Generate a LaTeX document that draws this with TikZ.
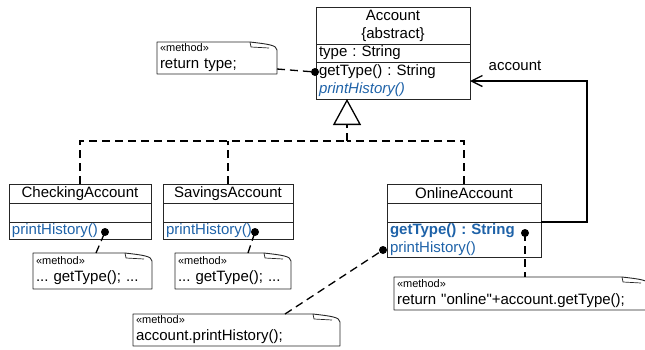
\documentclass[tikz,border=0pt]{standalone}
\usepackage{fontspec}
\setmainfont{Liberation Sans}[Ligatures=TeXOff]
\usetikzlibrary{arrows.meta, positioning}
\definecolor{opblue}{RGB}{30,98,168}
\tikzset{
  boxline/.style = {
    draw=black!85, line width=0.9pt, outer sep=0pt
  },
  head/.style = {
    boxline, inner xsep=3pt, inner ysep=0pt, align=center,
    font=\fontsize{15}{18}\selectfont
  },
  compart/.style = {
    boxline, inner xsep=3pt, inner ysep=0pt, align=left,
    font=\fontsize{15}{18}\selectfont
  },
  note/.style = {
    inner xsep=3pt, inner ysep=1pt, outer sep=0pt, align=left, anchor=north west,
    font=\fontsize{15}{17}\selectfont
  },
  noteedge/.style = {
    draw=black!85, line width=0.9pt, line join=round
  },
  dot/.style = {
    circle, fill=black, inner sep=0pt, minimum size=8pt
  },
  anchorline/.style = {
    line width=1.3pt, dash pattern=on 8pt off 5pt
  },
  realize/.style = {
    line width=1.3pt, dash pattern=on 8pt off 5pt
  },
  assoc/.style = {
    line width=1.3pt, -{Straight Barb[length=11pt, width=11pt]}
  }
}
\newcommand{\stereo}{{\fontsize{11}{12}\selectfont «method»}}

\begin{document}
\frenchspacing
\begin{tikzpicture}[x=1pt, y=-1pt]
  \useasboundingbox (0,0) rectangle (645,349);

  % Abstract class
  \node[head, anchor=north west, text width=148pt, minimum height=37pt] (acc) at (316,7) {Account\\\{abstract\}};
  \node[compart, below=0pt of acc, text width=148pt, minimum height=18pt] (accattr) {type : String};
  \node[compart, below=0pt of accattr, text width=148pt, minimum height=37pt] (accops)
    {getType() : String\\\textcolor{opblue}{\itshape printHistory()}};

  % Subclasses
  \node[head, anchor=north west, text width=136pt, minimum height=19pt] (chk) at (9,184) {CheckingAccount};
  \node[compart, below=0pt of chk, text width=136pt, minimum height=19pt] (chkattr) {};
  \node[compart, below=0pt of chkattr, text width=136pt, minimum height=17pt] (chkops)
    {\textcolor{opblue}{printHistory()}};

  \node[head, anchor=north west, text width=124pt, minimum height=19pt] (sav) at (163,184) {SavingsAccount};
  \node[compart, below=0pt of sav, text width=124pt, minimum height=19pt] (savattr) {};
  \node[compart, below=0pt of savattr, text width=124pt, minimum height=17pt] (savops)
    {\textcolor{opblue}{printHistory()}};

  \node[head, anchor=north west, text width=148pt, minimum height=19pt] (onl) at (387,184) {OnlineAccount};
  \node[compart, below=0pt of onl, text width=148pt, minimum height=19pt] (onlattr) {};
  \node[compart, below=0pt of onlattr, text width=148pt, minimum height=35pt] (onlops)
    {\textcolor{opblue}{\bfseries getType() : String}\\\textcolor{opblue}{printHistory()}};

  % Method notes
  \node[note, text width=114pt, minimum height=32pt] (retnote) at (157,42) {\stereo\\return type;};
  \node[note, text width=113pt, minimum height=36pt] (chknote) at (33,253) {\stereo\\... getType(); ...};
  \node[note, text width=110pt, minimum height=36pt] (savnote) at (175,253) {\stereo\\... getType(); ...};
  \node[note, text width=249pt, minimum height=33pt] (onlnote) at (394,277)
    {\stereo\\return "online"+account.getType();};
  \node[note, text width=201pt, minimum height=32pt] (prnote) at (133,314) {\stereo\\account.printHistory();};

  \foreach \n in {retnote, chknote, savnote, onlnote, prnote} {
    \draw[noteedge] (\n.south west) -- (\n.north west) -- ([xshift=-27pt]\n.north east)
      .. controls ([xshift=-10pt, yshift=-2pt]\n.north east) and ([yshift=-3pt]\n.north east)
      .. ([yshift=-8pt]\n.north east) -- (\n.south east) -- cycle;
    \draw[noteedge, line width=0.7pt] ([xshift=-27pt]\n.north east) -- ++(1pt,-5pt)
      -- ([xshift=-8pt, yshift=-6pt]\n.north east);
  }

  % Anchor dots
  \node[dot] (accdot) at (315,72) {};
  \node[dot] (chkdot) at (105,232) {};
  \node[dot] (savdot) at (255,232) {};
  \node[dot] (onldotr) at (525,233) {};
  \node[dot] (onldotl) at (383,250) {};

  % Note anchors
  \draw[anchorline] ([yshift=5pt]retnote.south east) -- (accdot.center);
  \draw[anchorline] ([xshift=63pt]chknote.north west) -- (chkdot.center);
  \draw[anchorline] ([xshift=73pt]savnote.north west) -- (savdot.center);
  \draw[anchorline] (onldotr.center) -- (onldotr |- onlnote.north);
  \draw[anchorline] ([xshift=152pt]prnote.north west) -- (onldotl.center);

  % Generalization
  \coordinate (join) at (347,141);
  \draw[realize] (chk.north) |- (join);
  \draw[realize] (sav.north) -- (sav.north |- join);
  \draw[realize] (onl.north) |- (join);
  \draw[realize, -{Triangle[open, length=26pt, width=28pt]}] (join) -- (join |- accops.south);

  % Association
  \coordinate (bend) at (587,81);
  \draw[assoc] (onlattr.south east) -| (bend) -- (bend -| accops.east);
  \node[font=\fontsize{15}{18}\selectfont] (rolelabel) at (515,66) {account};

\end{tikzpicture}
\end{document}
